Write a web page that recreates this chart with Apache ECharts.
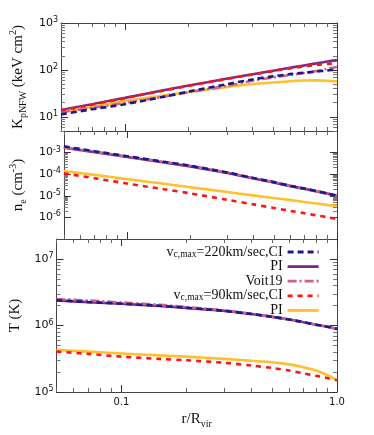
<!DOCTYPE html>
<html><head><meta charset="utf-8">
<script src="https://cdn.jsdelivr.net/npm/echarts@6/dist/echarts.min.js"></script>
<style>html,body{margin:0;padding:0;background:#fff}#c{width:374px;height:435px}</style>
</head><body><div id="c"></div>
<script>
// radius r/R_vir
const r = [0.05,0.07,0.1,0.15,0.2,0.3,0.4,0.5,0.6,0.7,0.8,0.9,1.0];
// Panel 1: K_pNFW (keV cm^2)
const K_ci220 = [11.3,14.5,18.6,26.4,34.6,49.3,62.8,72.9,81.3,87.1,92.4,97.3,102];
const K_pi220 = [14,18.6,25.4,36.4,46.5,64.6,80.9,96.4,110.9,124.8,138,151,162];
const K_voit  = [12.5,15.5,19.8,26.5,33.5,45.5,59,69,78,86,95,105,116];
const K_ci90  = [13.7,18.2,25,35.8,45.8,63.8,80,95,108,119,128,134,140];
const K_pi90  = [12.7,16.3,21.9,28.3,33.9,43,50,54,57.5,59.5,60,59,57];
// Panel 2: n_e (cm^-3)
const n_ci220 = [1.95e-3,1.15e-3,6.8e-4,3.75e-4,2.45e-4,1.2e-4,6.6e-5,4.3e-5,2.9e-5,2.15e-5,1.65e-5,1.28e-5,1.02e-5];
const n_pi220 = [1.7e-3,1.05e-3,6.3e-4,3.5e-4,2.3e-4,1.13e-4,6.3e-5,4.1e-5,2.8e-5,2.1e-5,1.6e-5,1.26e-5,1.0e-5];
const n_voit  = [1.75e-3,1.1e-3,6.6e-4,3.7e-4,2.42e-4,1.19e-4,6.6e-5,4.3e-5,2.9e-5,2.15e-5,1.62e-5,1.25e-5,9.8e-6];
const n_ci90  = [1.1e-4,6.5e-5,3.7e-5,2.0e-5,1.3e-5,6.5e-6,4.0e-6,2.75e-6,2.0e-6,1.55e-6,1.23e-6,1.02e-6,8.5e-7];
const n_pi90  = [1.4e-4,9.3e-5,5.9e-5,3.6e-5,2.5e-5,1.5e-5,1.05e-5,7.9e-6,6.3e-6,5.2e-6,4.4e-6,3.8e-6,3.4e-6];
// Panel 3: T (K)
const T_ci220 = [2.4e6,2.26e6,2.13e6,1.98e6,1.85e6,1.66e6,1.49e6,1.35e6,1.23e6,1.12e6,1.03e6,0.96e6,0.89e6];
const T_pi220 = [2.38e6,2.25e6,2.12e6,1.97e6,1.84e6,1.66e6,1.49e6,1.35e6,1.23e6,1.12e6,1.03e6,0.96e6,0.89e6];
const T_voit  = [2.5e6,2.38e6,2.22e6,2.05e6,1.9e6,1.69e6,1.5e6,1.36e6,1.23e6,1.12e6,1.03e6,0.96e6,0.89e6];
const T_ci90  = [4.05e5,3.75e5,3.4e5,3.15e5,3.0e5,2.75e5,2.5e5,2.3e5,2.1e5,1.9e5,1.75e5,1.62e5,1.5e5];
const T_pi90  = [4.3e5,4.05e5,3.8e5,3.55e5,3.4e5,3.15e5,2.95e5,2.8e5,2.6e5,2.35e5,2.1e5,1.8e5,1.5e5];

const xMajor = [0.1, 1];
const xMinor = [0.05,0.06,0.07,0.08,0.09,0.2,0.3,0.4,0.5,0.6,0.7,0.8,0.9];
const yRanges = [[5,1000],[1e-7,1e-2],[1e5,2e7]];
const yMajor = [[10,100,1000],[1e-6,1e-5,1e-4,1e-3],[1e5,1e6,1e7]];
const mult = [2,3,4,5,6,7,8,9];
const yMinor = [
  [5,6,7,8,9].concat(mult.map(m=>m*10), mult.map(m=>m*100)),
  [].concat(mult.map(m=>m*1e-6), mult.map(m=>m*1e-5), mult.map(m=>m*1e-4)),
  [].concat(mult.map(m=>m*1e5), mult.map(m=>m*1e6))
];
const legendNames = ['ci220','pi220','voit','ci90','pi90'];
const legendText = {
  ci220: '{n|v}{b|c,max}{n|=220km/sec,CI}',
  pi220: '{n|PI}',
  voit: '{n|Voit19}',
  ci90: '{n|v}{b|c,max}{n|=90km/sec,CI}',
  pi90: '{n|PI}'
};
const yNames = [
  '{n|K}{b|pNFW}{n| (keV cm}{t|2}{n|)}',
  '{n|n}{b|e}{n| (cm}{t|-3}{n|)}',
  '{n|T (K)}'
];
const panels = [
  {ci220:K_ci220, pi220:K_pi220, voit:K_voit, ci90:K_ci90, pi90:K_pi90},
  {ci220:n_ci220, pi220:n_pi220, voit:n_voit, ci90:n_ci90, pi90:n_pi90},
  {ci220:T_ci220, pi220:T_pi220, voit:T_voit, ci90:T_ci90, pi90:T_pi90}
];
const colors = {ci220:'#1a1a8a', pi220:'#7a2b88', voit:'#d0608c', ci90:'#ff1414', pi90:'#ffc02c'};
const dashes = {ci220:[6,4], pi220:'solid', voit:[9,3,2,3], ci90:[5,5], pi90:'solid'};
const drawOrder = ['pi220','pi90','voit','ci220','ci90'];

const serif = 'Liberation Serif';
const sans = 'DejaVu Sans';
const nameRich = {
  n:{fontFamily:serif,fontSize:15,lineHeight:20,color:'#111'},
  b:{fontFamily:serif,fontSize:10,lineHeight:10,verticalAlign:'bottom',color:'#111'},
  t:{fontFamily:serif,fontSize:10,lineHeight:13,verticalAlign:'top',color:'#111'}
};
const tickRich = {
  n:{fontFamily:sans,fontSize:11,lineHeight:14,color:'#111'},
  s:{fontFamily:sans,fontSize:8,lineHeight:8,verticalAlign:'top',color:'#111'}
};
const grids = [
  {left:56,right:37,top:23,height:108},
  {left:56,right:37,top:131,height:108},
  {left:56,right:37,top:239,height:153}
];
const lineCol = '#444';
const xAxis = [], yAxis = [];
grids.forEach((g,i)=>{
  ['bottom','top'].forEach(pos=>{
    [true,false].forEach(major=>{
      const ax = {
        type:'log', logBase:10, gridIndex:i, position:pos, min:0.05, max:1,
        axisLine:{show:major, onZero:false, lineStyle:{color:lineCol,width:1}},
        axisTick:{show:true, inside:true, length: major?7:4, customValues: major?xMajor:xMinor,
          lineStyle:{color: major?'#333':'#666', width:1}},
        axisLabel:{show:false},
        splitLine:{show:false}, minorTick:{show:false}
      };
      if (major && pos==='bottom' && i===2) {
        ax.axisLabel = {show:true, customValues:xMajor, margin:5, fontFamily:sans, fontSize:10, color:'#111',
          formatter: v => (Math.abs(v-1)<1e-9 ? '1.0' : String(v))};
        ax.name = '{n|r/R}{b|vir}';
        ax.nameLocation = 'middle';
        ax.nameGap = 17;
        ax.nameTextStyle = {rich:nameRich};
      }
      xAxis.push(ax);
    });
  });
  ['left','right'].forEach(pos=>{
    [true,false].forEach(major=>{
      const ay = {
        type:'log', logBase:10, gridIndex:i, position:pos, min:yRanges[i][0], max:yRanges[i][1],
        axisLine:{show:major, onZero:false, lineStyle:{color:lineCol,width:1}},
        axisTick:{show:true, inside:true, length: major?7:4, customValues: major?yMajor[i]:yMinor[i],
          lineStyle:{color: major?'#333':'#777', width:1}},
        axisLabel:{show:false},
        splitLine:{show:false}, minorTick:{show:false}
      };
      if (major && pos==='left') {
        ay.axisLabel = {show:true, customValues:yMajor[i], margin:3,
          formatter: v => '{n|10}{s|' + Math.round(Math.log10(v)) + '}', rich:tickRich};
        ay.name = yNames[i];
        ay.nameLocation = 'middle';
        ay.nameRotate = 90;
        ay.nameGap = 31;
        ay.nameTextStyle = {rich:nameRich};
      }
      yAxis.push(ay);
    });
  });
});

const series = [];
panels.forEach((p,i)=>{
  drawOrder.forEach(key=>{
    series.push({
      type:'line', name:key, xAxisIndex:i*4, yAxisIndex:i*4,
      data: r.map((x,j)=>[x, p[key][j]]),
      symbol:'none', showSymbol:false, smooth:0.3, clip:true, silent:true,
      lineStyle:{color:colors[key], width:2.6, type:dashes[key]},
      itemStyle:{color:colors[key]},
      z: 2
    });
  });
});

const chart = echarts.init(document.getElementById('c'), null, {renderer:'canvas'});
chart.setOption({
  animation:false,
  backgroundColor:'#fff',
  grid: grids,
  xAxis, yAxis, series,
  legend: {
    data: legendNames, orient:'vertical', right:49, top:240, align:'right',
    itemWidth:31, itemHeight:2, itemGap:0.6, selectedMode:false,
    itemStyle:{opacity:0},
    lineStyle:{width:2.8},
    formatter: n => legendText[n],
    textStyle:{rich:{
      n:{fontFamily:serif,fontSize:14,lineHeight:14,color:'#111'},
      b:{fontFamily:serif,fontSize:9.5,lineHeight:8,verticalAlign:'bottom',color:'#111'}
    }}
  }
});
</script></body></html>
